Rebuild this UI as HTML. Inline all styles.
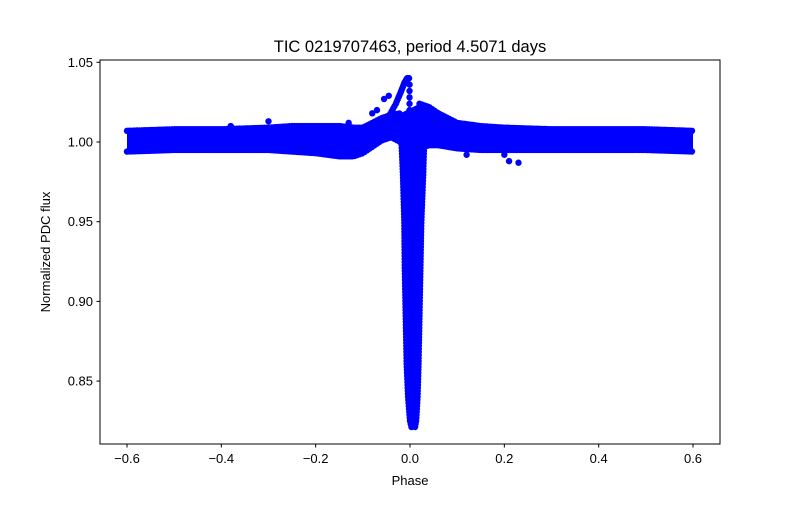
<!DOCTYPE html>
<html><head><meta charset="utf-8"><style>
body{margin:0;background:#fff;}
svg text{font-family:"Liberation Sans","DejaVu Sans",sans-serif;}
</style></head><body>
<svg id="chart" width="800" height="500" xmlns="http://www.w3.org/2000/svg">
<rect width="800" height="500" fill="#fff"/>
<text x="410" y="52" text-anchor="middle" font-size="16.5">TIC 0219707463, period 4.5071 days</text>
<g id="marks"></g>
<rect x="100" y="60" width="620" height="384" fill="none" stroke="#000" stroke-width="1"/>
<g id="axes"></g>
<text x="410" y="485" text-anchor="middle" font-size="13">Phase</text>
<text x="50" y="252" text-anchor="middle" font-size="13" transform="rotate(-90 50 252)">Normalized PDC flux</text>
</svg>
<script>
const bandPhase=[-0.6,-0.5,-0.4,-0.3,-0.25,-0.2,-0.15,-0.12,-0.1,-0.08,-0.06,-0.04,-0.02,0.02,0.04,0.06,0.1,0.15,0.2,0.3,0.4,0.5,0.6];
const bandUpper=[1.007,1.008,1.008,1.009,1.010,1.010,1.010,1.009,1.009,1.012,1.015,1.017,1.018,1.024,1.022,1.018,1.012,1.010,1.009,1.008,1.008,1.008,1.007];
const bandLower=[0.994,0.995,0.995,0.995,0.994,0.993,0.991,0.991,0.993,0.997,1.001,1.003,1.000,0.996,0.998,0.998,0.996,0.995,0.995,0.995,0.995,0.995,0.994];
const dipFlux=[1.0,0.98,0.95,0.92,0.89,0.86,0.84,0.825,0.82];
const dipLeft=[-0.018,-0.015,-0.012,-0.011,-0.009,-0.007,-0.004,0.0,0.004];
const dipRight=[0.03,0.028,0.024,0.022,0.02,0.018,0.016,0.013,0.01];
const rampPhase=[-0.06,-0.045,-0.03,-0.02,-0.012,-0.006,-0.002];
const rampFlux=[1.009,1.016,1.024,1.031,1.037,1.040,1.040];
const outPhase=[-0.13,-0.08,-0.07,-0.055,-0.045,0.2,0.21,0.23,0.29,-0.38,-0.3,0.12];
const outFlux=[1.012,1.018,1.020,1.027,1.029,0.992,0.988,0.987,0.996,1.010,1.013,0.992];
const xTicks=[-0.6,-0.4,-0.2,0.0,0.2,0.4,0.6];
const xTickLabels=["−0.6","−0.4","−0.2","0.0","0.2","0.4","0.6"];
const yTicks=[0.85,0.90,0.95,1.00,1.05];
const yTickLabels=["0.85","0.90","0.95","1.00","1.05"];

const X=p=>410+p*471.7;
const Y=f=>142-(f-1)*1594;
const NS="http://www.w3.org/2000/svg";
const marks=document.getElementById('marks');
const axes=document.getElementById('axes');
const C="#0000ff";
function dot(p,f,name){const c=document.createElementNS(NS,'circle');c.setAttribute('cx',X(p));c.setAttribute('cy',Y(f));c.setAttribute('r',3.2);c.setAttribute('fill',C);


marks.appendChild(c);}
function interp(xs,ys,x){for(let i=0;i<xs.length-1;i++){if(x>=xs[i]&&x<=xs[i+1]){const t=(x-xs[i])/(xs[i+1]-xs[i]);return ys[i]+t*(ys[i+1]-ys[i]);}}return ys[ys.length-1];}
// band polygon
let pts=[];
bandPhase.forEach((p,i)=>pts.push(X(p)+','+Y(bandUpper[i])));
for(let i=bandPhase.length-1;i>=0;i--)pts.push(X(bandPhase[i])+','+Y(bandLower[i]));
const band=document.createElementNS(NS,'polygon');band.setAttribute('points',pts.join(' '));band.setAttribute('fill',C);


marks.appendChild(band);
// edge dots
for(let px=X(bandPhase[0]);px<=X(bandPhase[bandPhase.length-1]);px+=2.5){const p=(px-410)/471.7;
if(p>-0.02&&p<0.02)continue;
dot(p,interp(bandPhase,bandUpper,p),'band-upper-point');dot(p,interp(bandPhase,bandLower,p),'band-lower-point');}
// dip polygon
pts=[];
dipFlux.forEach((f,i)=>pts.push(X(dipLeft[i])+','+Y(f)));
for(let i=dipFlux.length-1;i>=0;i--)pts.push(X(dipRight[i])+','+Y(dipFlux[i]));
const dip=document.createElementNS(NS,'polygon');dip.setAttribute('points',pts.join(' '));dip.setAttribute('fill',C);


marks.appendChild(dip);
for(let py=Y(dipFlux[0]);py<=Y(dipFlux[dipFlux.length-1]);py+=3){const f=1-(py-142)/1594;
const fr=dipFlux.slice().reverse();
dot(interp(fr,dipLeft.slice().reverse(),f),f,'dip-left-point');dot(interp(fr,dipRight.slice().reverse(),f),f,'dip-right-point');}
// ramp
for(let i=0;i<rampPhase.length-1;i++){for(let t=0;t<1;t+=0.2){dot(rampPhase[i]+t*(rampPhase[i+1]-rampPhase[i]),rampFlux[i]+t*(rampFlux[i+1]-rampFlux[i]),'ramp-point');}}
dot(rampPhase[rampPhase.length-1],rampFlux[rampFlux.length-1],'ramp-point');
// column connecting peak to band
for(let f=1.036;f>1.0;f-=0.004)dot(-0.001,f,'peak-column-point');
outPhase.forEach((p,i)=>dot(p,outFlux[i],'outlier-point'));
// axes ticks
xTicks.forEach((t,i)=>{const l=document.createElementNS(NS,'line');l.setAttribute('x1',X(t));l.setAttribute('x2',X(t));l.setAttribute('y1',444);l.setAttribute('y2',447.5);l.setAttribute('stroke','#000');


axes.appendChild(l);
const tx=document.createElementNS(NS,'text');tx.setAttribute('x',X(t));tx.setAttribute('y',463);tx.setAttribute('text-anchor','middle');tx.setAttribute('font-size','13');tx.textContent=xTickLabels[i];


axes.appendChild(tx);});
yTicks.forEach((t,i)=>{const l=document.createElementNS(NS,'line');l.setAttribute('x1',96.5);l.setAttribute('x2',100);l.setAttribute('y1',Y(t));l.setAttribute('y2',Y(t));l.setAttribute('stroke','#000');


axes.appendChild(l);
const tx=document.createElementNS(NS,'text');tx.setAttribute('x',93);tx.setAttribute('y',Y(t)+4.5);tx.setAttribute('text-anchor','end');tx.setAttribute('font-size','13');tx.textContent=yTickLabels[i];


axes.appendChild(tx);});
</script>
</body></html>
